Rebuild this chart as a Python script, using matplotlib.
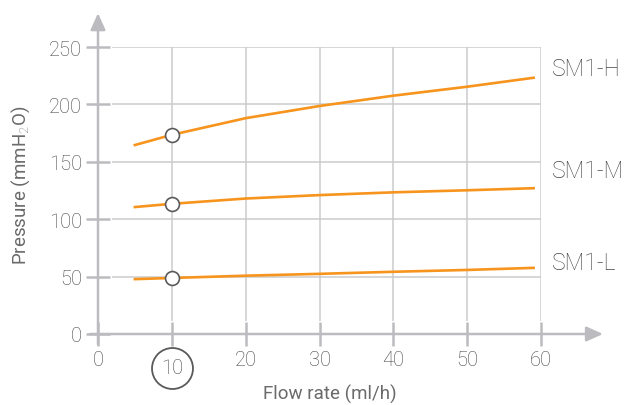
import matplotlib.pyplot as plt
from matplotlib import transforms

# flow rate (ml/h) vs pressure (mmH2O)
flow = [5, 10, 20, 30, 40, 50, 59]
sm1_h = [164.6, 173.5, 188, 198.6, 207.6, 215.4, 223.2]
sm1_m = [110.6, 113.4, 118, 121, 123.4, 125.2, 127.0]
sm1_l = [47.8, 48.8, 50.8, 52.4, 54.2, 55.8, 57.6]
series_names = ["SM1-H", "SM1-M", "SM1-L"]
marked_flow = 10

xticks = [0, 10, 20, 30, 40, 50, 60]
yticks = [0, 50, 100, 150, 200, 250]

orange = '#f7941d'
grid_c = '#cbcbcb'
axis_c = '#bcbcc0'
text_c = '#464646'

plt.rcParams['font.family'] = ['Roboto', 'DejaVu Sans']
plt.rcParams['font.weight'] = 'light'
plt.rcParams['mathtext.fontset'] = 'custom'
plt.rcParams['mathtext.rm'] = 'Roboto'

fig = plt.figure(figsize=(6.31, 4.06), dpi=100)
ax = fig.add_axes([98 / 631, 71 / 406, 443 / 631, 287 / 406])
ax.set_xlim(0, 60)
ax.set_ylim(0, 250)
for s in ax.spines.values():
    s.set_visible(False)

# grid lines stop short of the axes
ax.hlines(yticks[1:], 1.9, 60, color=grid_c, lw=1.1, zorder=1)
ax.vlines(xticks[1:], 11, 250, color=grid_c, lw=1.1, zorder=1)

# arrowed axes
arrow = dict(arrowstyle='-|>,head_length=1.0,head_width=0.45', color=axis_c, lw=1.8,
             shrinkA=0, shrinkB=0)
ax.annotate('', xy=(0, 1.118), xytext=(0, -0.035), xycoords='axes fraction', arrowprops=arrow)
ax.annotate('', xy=(1.14, 0), xytext=(-0.018, 0), xycoords='axes fraction', arrowprops=arrow)

ax.set_xticks(xticks)
ax.set_yticks(yticks)
ax.set_xticklabels([str(v) if v != marked_flow else '' for v in xticks])
ax.tick_params(direction='inout', length=17, width=1.8, color=axis_c,
               labelcolor=text_c, labelsize=14.5)
ax.tick_params(axis='y', pad=3)
ax.tick_params(axis='x', pad=3)

# circled "10" label
tr = transforms.blended_transform_factory(ax.transData, ax.transAxes)
ax.text(marked_flow, -0.117, str(marked_flow), transform=tr, ha='center', va='center',
        color=text_c, fontsize=14.5)
ax.plot([marked_flow], [-0.117], 'o', ms=29.5, mfc='none', mec='#5a5a5a', mew=1.3,
        transform=tr, clip_on=False)

ax.set_xlabel("Flow rate (ml/h)", color='#6a6a6a', fontsize=13.5, fontweight='normal')
ax.set_ylabel("Pressure (mmH$_2$O)", color='#6a6a6a', fontsize=13.5, fontweight='normal')
ax.xaxis.set_label_coords(0.524, -0.172)
ax.yaxis.set_label_coords(-0.15, 0.52)

label_y = [69, 172, 263]
i = flow.index(marked_flow)
for vals, name, ly in zip([sm1_h, sm1_m, sm1_l], series_names, label_y):
    ax.plot(flow, vals, color=orange, lw=1.9, zorder=3, clip_on=False)
    ax.plot([flow[i]], [vals[i]], 'o', ms=10, mfc='white', mec='#5a5a5a', mew=1.2, zorder=4)
    fig.text(552 / 631, 1 - ly / 406, name, color=text_c, fontsize=16.5, va='center', ha='left')

plt.savefig("out.png", dpi=100)
